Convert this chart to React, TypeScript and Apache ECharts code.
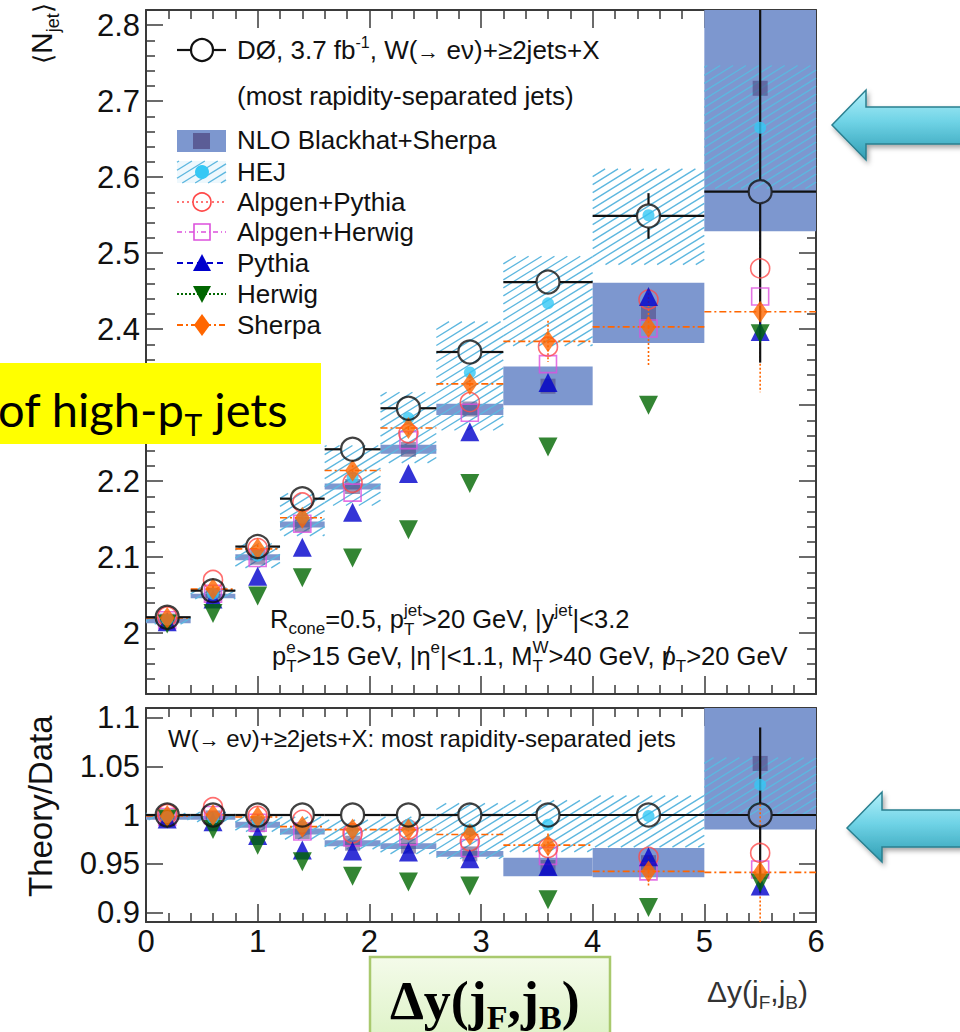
import React, { useEffect, useRef } from 'react';
import * as echarts from 'echarts';

const FONT = 'Liberation Sans, Arial, Helvetica, sans-serif';
const SERIF = 'Liberation Serif, Times New Roman, serif';

// ---------- bins ----------
const binLo = [0, 0.4, 0.8, 1.2, 1.6, 2.1, 2.6, 3.2, 4.0, 5.0];
const binHi = [0.4, 0.8, 1.2, 1.6, 2.1, 2.6, 3.2, 4.0, 5.0, 6.0];
const binX = [0.19, 0.6, 1.0, 1.4, 1.85, 2.35, 2.9, 3.6, 4.5, 5.5];

// ---------- top panel: <N_jet> ----------
const dataN = [2.021, 2.056, 2.114, 2.177, 2.242, 2.296, 2.37, 2.462, 2.549, 2.581];
const dataNErrLo = [0.003, 0.003, 0.004, 0.005, 0.006, 0.007, 0.009, 0.012, 0.03, 0.225];
const dataNErrHi = [0.003, 0.003, 0.004, 0.005, 0.006, 0.007, 0.009, 0.012, 0.03, 0.26];
const nloLo = [2.013, 2.046, 2.096, 2.139, 2.189, 2.236, 2.287, 2.3, 2.382, 2.529];
const nloHi = [2.019, 2.052, 2.104, 2.147, 2.197, 2.248, 2.302, 2.351, 2.461, 2.95];
const nloMid = [2.016, 2.049, 2.1, 2.143, 2.193, 2.242, 2.295, 2.325, 2.421, 2.717];
const hejLo = [2.012, 2.045, 2.086, 2.128, 2.168, 2.224, 2.267, 2.378, 2.485, 2.585];
const hejHi = [2.022, 2.06, 2.118, 2.184, 2.247, 2.317, 2.41, 2.496, 2.611, 2.747];
const hejN = [2.018, 2.052, 2.102, 2.152, 2.205, 2.283, 2.343, 2.434, 2.55, 2.665];
const alpPyN = [2.022, 2.07, 2.112, 2.172, 2.198, 2.263, 2.304, 2.377, 2.439, 2.48];
const alpHwN = [2.017, 2.052, 2.099, 2.144, 2.185, 2.254, 2.29, 2.354, 2.401, 2.443];
const pythiaN = [2.015, 2.045, 2.075, 2.113, 2.159, 2.21, 2.265, 2.33, 2.443, 2.397];
const herwigN = [2.012, 2.026, 2.049, 2.073, 2.099, 2.136, 2.197, 2.245, 2.3, 2.394];
const sherpaN = [2.02, 2.058, 2.111, 2.152, 2.214, 2.27, 2.328, 2.384, 2.403, 2.423];
const sherpaNErr = [0.003, 0.004, 0.005, 0.006, 0.007, 0.008, 0.01, 0.027, 0.05, 0.106];

// ---------- bottom panel: Theory/Data ----------
const dataR = [1, 1, 1, 1, 1, 1, 1, 1, 1, 1];
const dataRErrLo = [0.002, 0.002, 0.002, 0.003, 0.003, 0.003, 0.004, 0.005, 0.012, 0.08];
const dataRErrHi = [0.002, 0.002, 0.002, 0.003, 0.003, 0.003, 0.004, 0.005, 0.012, 0.09];
const nloRLo = [0.995, 0.995, 0.987, 0.98, 0.968, 0.965, 0.957, 0.937, 0.936, 0.985];
const nloRHi = [0.999, 0.999, 0.993, 0.986, 0.974, 0.971, 0.963, 0.956, 0.966, 1.2];
const nloRMid = [0.997, 0.997, 0.99, 0.983, 0.971, 0.968, 0.96, 0.946, 0.951, 1.053];
const hejRLo = [0.995, 0.993, 0.983, 0.975, 0.965, 0.96, 0.955, 0.962, 0.967, 1.0];
const hejRHi = [1.002, 1.003, 1.0, 0.998, 0.995, 0.998, 1.012, 1.015, 1.02, 1.059];
const hejR = [0.998, 0.997, 0.993, 0.988, 0.984, 0.99, 0.985, 0.99, 0.999, 1.031];
const alpPyR = [1.001, 1.008, 0.999, 0.995, 0.981, 0.985, 0.973, 0.966, 0.957, 0.961];
const alpHwR = [0.998, 1.0, 0.992, 0.983, 0.977, 0.978, 0.966, 0.958, 0.942, 0.944];
const pythiaR = [0.996, 0.993, 0.979, 0.964, 0.963, 0.962, 0.955, 0.947, 0.957, 0.927];
const herwigR = [0.996, 0.985, 0.969, 0.952, 0.937, 0.931, 0.927, 0.913, 0.905, 0.93];
const sherpaR = [0.999, 1.0, 0.998, 0.988, 0.985, 0.985, 0.98, 0.969, 0.942, 0.941];
const sherpaRErr = [0.002, 0.002, 0.003, 0.003, 0.004, 0.004, 0.005, 0.012, 0.015, 0.07];

// ---------- axis ticks ----------
const xTickLabels = [0, 1, 2, 3, 4, 5, 6];
const yTopMajor = [2.0, 2.1, 2.2, 2.3, 2.4, 2.5, 2.6, 2.7, 2.8];
const yTopRange = [1.92, 2.82];
const yBotMajor = [0.9, 0.95, 1.0, 1.05, 1.1];
const yBotRange = [0.89, 1.11];
const yTopMinor: number[] = [];
for (let i = 96; i <= 141; i++) if (i % 5 !== 0) yTopMinor.push(+(i * 0.02).toFixed(2));

// ---------- colours ----------
const C_NLO = '#7d97cf';
const C_NLO_MID = 'rgba(78,70,128,0.72)';
const C_HATCH = '#5db7df';
const C_HEJ = '#35c8f5';
const C_APY = '#ff4a4a';
const C_AHW = '#dd50dd';
const C_PYT = '#0000cc';
const C_HER = '#006600';
const C_SHE = '#ff6600';

// ---------- helpers ----------
let mctx: CanvasRenderingContext2D | null = null;
function tw(t: string, size: number, fam: string, weight: string) {
  if (!mctx) mctx = document.createElement('canvas').getContext('2d');
  mctx!.font = `${weight} ${size}px ${fam}`;
  return mctx!.measureText(t).width;
}
type Seg = { t: string; s?: number; dy?: number; dx?: number; stack?: boolean };
function richLine(x: number, base: number, segs: Seg[], size: number, fill: string, fam = FONT, weight = 'normal') {
  const out: any[] = [];
  let cx = x;
  let anchor = x;
  for (const g of segs) {
    const fs = g.s ?? size;
    const w = tw(g.t, fs, fam, weight);
    const sx = (g.stack ? anchor : cx) + (g.dx ?? 0);
    if (!g.stack) anchor = cx;
    out.push({
      type: 'text', x: sx, y: base + (g.dy ?? 0) - 0.35 * fs, z: 100, silent: true,
      style: { text: g.t, fontSize: fs, fontFamily: fam, fontWeight: weight, fill, align: 'left', verticalAlign: 'middle' },
    });
    cx = g.stack ? Math.max(cx, sx + w) : sx + w;
  }
  return out;
}
function hatchSegs(x0: number, y0: number, x1: number, y1: number) {
  const k = 0.62, s = 8;
  const res: number[][] = [];
  const cMin = y0 + k * x0, cMax = y1 + k * x1;
  for (let c = Math.ceil(cMin / s) * s; c <= cMax; c += s) {
    const xa = Math.max(x0, (c - y1) / k);
    const xb = Math.min(x1, (c - y0) / k);
    if (xb - xa > 0.5) res.push([xa, c - k * xa, xb, c - k * xb]);
  }
  return res;
}
const gl = (x1: number, y1: number, x2: number, y2: number, stroke: string, lw: number, dash?: number[]) => ({
  type: 'line', z: 100, silent: true, shape: { x1, y1, x2, y2 }, style: { stroke, lineWidth: lw, lineDash: dash },
});

function bandRender(color: string) {
  return (params: any, api: any) => {
    const cs = params.coordSys;
    const a = api.coord([api.value(0), api.value(3)]);
    const b = api.coord([api.value(1), api.value(2)]);
    const top = Math.max(a[1], cs.y), bot = Math.min(b[1], cs.y + cs.height);
    return { type: 'rect', shape: { x: a[0], y: top, width: b[0] - a[0], height: Math.max(bot - top, 1) }, style: { fill: color } };
  };
}
function hatchRender(color: string) {
  return (params: any, api: any) => {
    const cs = params.coordSys;
    const a = api.coord([api.value(0), api.value(3)]);
    const b = api.coord([api.value(1), api.value(2)]);
    const top = Math.max(a[1], cs.y), bot = Math.min(b[1], cs.y + cs.height);
    const children = hatchSegs(a[0], top, b[0], bot).map((s) => ({
      type: 'line', shape: { x1: s[0], y1: s[1], x2: s[2], y2: s[3] }, style: { stroke: color, lineWidth: 1.4 },
    }));
    return { type: 'group', children };
  };
}
function errRender(color: string, width: number, dash: any, gap: number) {
  return (params: any, api: any) => {
    const cs = params.coordSys;
    const x = api.value(0), y = api.value(1);
    const c = api.coord([x, y]);
    const pl = api.coord([api.value(2), y]);
    const ph = api.coord([api.value(3), y]);
    const pyl = api.coord([x, api.value(4)]);
    const pyh = api.coord([x, api.value(5)]);
    const st = { stroke: color, lineWidth: width, lineDash: dash };
    const ch: any[] = [];
    const L = (x1: number, y1: number, x2: number, y2: number) => ch.push({ type: 'line', shape: { x1, y1, x2, y2 }, style: st });
    if (ph[0] - pl[0] > 1) {
      if (gap > 0) { L(pl[0], c[1], c[0] - gap, c[1]); L(c[0] + gap, c[1], ph[0], c[1]); }
      else L(pl[0], c[1], ph[0], c[1]);
    }
    const yTop = Math.max(cs.y, pyh[1]);
    const yBot = Math.min(cs.y + cs.height, pyl[1]);
    if (c[1] - gap > yTop + 0.5) L(c[0], yTop, c[0], c[1] - gap);
    if (yBot > c[1] + gap + 0.5) L(c[0], c[1] + gap, c[0], yBot);
    return { type: 'group', children: ch };
  };
}

const idx = binX.map((_, i) => i);
function panelSeries(xi: number, yi: number, d: any) {
  const base = { xAxisIndex: xi, yAxisIndex: yi, silent: true, animation: false };
  const sc = (data: number[], z: number, extra: any) => ({
    ...base, type: 'scatter', z, emphasis: { disabled: true }, data: idx.map((i) => [binX[i], data[i]]), ...extra,
  });
  return [
    { ...base, type: 'custom', z: 1, renderItem: bandRender(C_NLO), data: idx.map((i) => [binLo[i], binHi[i], d.nloLo[i], d.nloHi[i]]) },
    { ...base, type: 'custom', z: 2, renderItem: hatchRender(C_HATCH), data: idx.map((i) => [binLo[i], binHi[i], d.hejLo[i], d.hejHi[i]]) },
    sc(d.nloMid, 3, { symbol: 'rect', symbolSize: 15, itemStyle: { color: C_NLO_MID } }),
    { ...base, type: 'custom', z: 4, renderItem: errRender(C_SHE, 1.6, [7, 3, 2, 3], 0), data: idx.map((i) => [binX[i], d.she[i], binLo[i], binHi[i], d.she[i], d.she[i]]) },
    { ...base, type: 'custom', z: 4, renderItem: errRender(C_SHE, 1.6, [2, 2], 0), data: idx.map((i) => [binX[i], d.she[i], binX[i], binX[i], d.she[i] - d.sheErr[i], d.she[i] + d.sheErr[i]]) },
    { ...base, type: 'custom', z: 5, renderItem: errRender('#111', 2.2, null, 12), data: idx.map((i) => [binX[i], d.data[i], binLo[i], binHi[i], d.data[i] - d.dErrLo[i], d.data[i] + d.dErrHi[i]]) },
    sc(d.ahw, 6, { symbol: 'rect', symbolSize: 17, itemStyle: { color: 'rgba(0,0,0,0)', borderColor: C_AHW, borderWidth: 1.6 } }),
    sc(d.apy, 7, { symbol: 'circle', symbolSize: 19, itemStyle: { color: 'rgba(0,0,0,0)', borderColor: C_APY, borderWidth: 1.6 } }),
    sc(d.pyt, 8, { symbol: 'triangle', symbolSize: 19, itemStyle: { color: C_PYT } }),
    sc(d.her, 8, { symbol: 'triangle', symbolRotate: 180, symbolSize: 19, itemStyle: { color: C_HER } }),
    sc(d.hej, 9, { symbol: 'circle', symbolSize: 12, itemStyle: { color: C_HEJ } }),
    sc(d.she, 10, { symbol: 'diamond', symbolSize: [15, 22], itemStyle: { color: C_SHE } }),
    sc(d.data, 11, { symbol: 'circle', symbolSize: 23, itemStyle: { color: 'rgba(0,0,0,0)', borderColor: '#111', borderWidth: 2.2 } }),
  ];
}

const axLine = { color: '#3a3a3a', width: 2 };
const tickSt = { color: '#3a3a3a', width: 1.5 };
const labelSt = { fontSize: 31, fontFamily: FONT, color: '#111' };
function xAx(grid: number, pos: string, labels: boolean) {
  return {
    type: 'value', gridIndex: grid, position: pos, min: 0, max: 6, interval: 1,
    axisLine: { show: true, onZero: false, lineStyle: axLine },
    axisTick: { show: true, inside: true, length: 18, lineStyle: tickSt },
    minorTick: { show: true, splitNumber: 5, length: 9, lineStyle: tickSt },
    axisLabel: labels ? { show: true, margin: 4, ...labelSt, customValues: xTickLabels } : { show: false },
    splitLine: { show: false }, minorSplitLine: { show: false },
  };
}
function yAx(grid: number, pos: string, range: number[], values: number[], len: number, labels: boolean, line: boolean) {
  return {
    type: 'value', gridIndex: grid, position: pos, min: range[0], max: range[1],
    axisLine: { show: line, onZero: false, lineStyle: axLine },
    axisTick: { show: true, inside: true, length: len, customValues: values, lineStyle: tickSt },
    axisLabel: labels ? { show: true, margin: 6, ...labelSt, customValues: values } : { show: false },
    splitLine: { show: false },
  };
}

function legend() {
  const els: any[] = [];
  const X0 = 177, X1 = 226, XC = 202, TX = 237, FS = 26;
  const T = (y: number, segs: Seg[]) => els.push(...richLine(TX, y + 9, segs, FS, '#111'));
  // data
  els.push(gl(X0, 50, XC - 11, 50, '#111', 2.2), gl(XC + 11, 50, X1, 50, '#111', 2.2));
  els.push({ type: 'circle', z: 100, silent: true, shape: { cx: XC, cy: 50, r: 11 }, style: { fill: 'none', stroke: '#111', lineWidth: 2.2 } });
  T(50, [{ t: 'DØ, 3.7 fb' }, { t: '-1', s: 16, dy: -11 }, { t: ', W(' }, { t: '→', s: 22 }, { t: ' eν)+≥2jets+X' }]);
  T(96, [{ t: '(most rapidity-separated jets)' }]);
  // NLO
  els.push({ type: 'rect', z: 100, silent: true, shape: { x: X0, y: 130, width: X1 - X0, height: 22 }, style: { fill: C_NLO } });
  els.push({ type: 'rect', z: 100, silent: true, shape: { x: 193, y: 133, width: 17, height: 16 }, style: { fill: C_NLO_MID } });
  T(140, [{ t: 'NLO Blackhat+Sherpa' }]);
  // HEJ
  els.push({ type: 'rect', z: 100, silent: true, shape: { x: X0, y: 161, width: X1 - X0, height: 22 }, style: { fill: 'rgba(140,210,240,0.15)' } });
  hatchSegs(X0, 161, X1, 183).forEach((s) => els.push(gl(s[0], s[1], s[2], s[3], C_HATCH, 1.4)));
  els.push({ type: 'circle', z: 100, silent: true, shape: { cx: XC, cy: 172, r: 7 }, style: { fill: C_HEJ } });
  T(172, [{ t: 'HEJ' }]);
  // Alpgen+Pythia
  els.push(gl(X0, 202, X1, 202, C_APY, 1.6, [2, 3]));
  els.push({ type: 'circle', z: 100, silent: true, shape: { cx: XC, cy: 202, r: 9 }, style: { fill: '#fff', stroke: C_APY, lineWidth: 1.6 } });
  els.push(gl(XC - 6, 202, XC + 6, 202, C_APY, 1.6, [2, 3]));
  T(202, [{ t: 'Alpgen+Pythia' }]);
  // Alpgen+Herwig
  els.push(gl(X0, 232, X1, 232, C_AHW, 1.6, [5, 3, 1, 3]));
  els.push({ type: 'rect', z: 100, silent: true, shape: { x: XC - 8, y: 224, width: 16, height: 16 }, style: { fill: 'none', stroke: C_AHW, lineWidth: 1.6 } });
  T(232, [{ t: 'Alpgen+Herwig' }]);
  // Pythia
  els.push(gl(X0, 263, X1, 263, C_PYT, 2, [6, 4]));
  els.push({ type: 'polygon', z: 100, silent: true, shape: { points: [[XC - 9, 271], [XC + 9, 271], [XC, 254]] }, style: { fill: C_PYT } });
  T(263, [{ t: 'Pythia' }]);
  // Herwig
  els.push(gl(X0, 294, X1, 294, C_HER, 2, [2, 2]));
  els.push({ type: 'polygon', z: 100, silent: true, shape: { points: [[XC - 9, 286], [XC + 9, 286], [XC, 303]] }, style: { fill: C_HER } });
  T(294, [{ t: 'Herwig' }]);
  // Sherpa
  els.push(gl(X0, 325, X1, 325, C_SHE, 2, [6, 3, 2, 3]));
  els.push({ type: 'polygon', z: 100, silent: true, shape: { points: [[XC, 314], [XC + 8, 325], [XC, 336], [XC - 8, 325]] }, style: { fill: C_SHE } });
  T(325, [{ t: 'Sherpa' }]);
  return els;
}

function annotations() {
  const els: any[] = [];
  const S = 17;
  els.push(...richLine(270, 628, [
    { t: 'R' }, { t: 'cone', s: S, dy: 6 }, { t: '=0.5, p' }, { t: 'T', s: S, dy: 7 }, { t: 'jet', s: S, dy: -12, stack: true },
    { t: '>20 GeV, |y' }, { t: 'jet', s: S, dy: -12 }, { t: '|<3.2' },
  ], 25.5, '#111'));
  els.push(...richLine(272, 665, [
    { t: 'p' }, { t: 'T', s: S, dy: 7 }, { t: 'e', s: S, dy: -12, stack: true }, { t: '>15 GeV, |η' }, { t: 'e', s: S, dy: -12 },
    { t: '|<1.1, M' }, { t: 'T', s: S, dy: 7 }, { t: 'W', s: S, dy: -12, stack: true }, { t: '>40 GeV, ' },
    { t: 'p' }, { t: '/', stack: true, dx: 2 }, { t: 'T', s: S, dy: 7 }, { t: '>20 GeV' },
  ], 25.5, '#111'));
  els.push(...richLine(168, 747, [{ t: 'W(' }, { t: '→', s: 21 }, { t: ' eν)+≥2jets+X: most rapidity-separated jets' }], 24, '#111'));
  els.push(...richLine(707, 1002, [{ t: 'Δy(j' }, { t: 'F', s: 19, dy: 7 }, { t: ',j' }, { t: 'B', s: 19, dy: 7 }, { t: ')' }], 30, '#333'));
  // rotated y titles
  els.push({ type: 'group', x: 52, y: 64, rotation: Math.PI / 2, z: 100, silent: true,
    children: richLine(0, 0, [{ t: '⟨', s: 26 }, { t: 'N' }, { t: 'jet', s: 18, dy: 7 }, { t: '⟩', s: 26 }], 30, '#111') });
  els.push({ type: 'group', x: 52, y: 897, rotation: Math.PI / 2, z: 100, silent: true,
    children: richLine(0, 0, [{ t: 'Theory/Data' }], 33, '#111') });
  return els;
}

function overlays() {
  const els: any[] = [];
  // yellow label
  els.push({ type: 'rect', z: 200, silent: true, shape: { x: 0, y: 363, width: 321, height: 81 }, style: { fill: '#ffff00' } });
  els.push(...richLine(-2, 425, [{ t: 'of high-p' }, { t: 'T', s: 30, dy: 9 }, { t: ' jets' }], 47, '#000', 'Lato, Open Sans, sans-serif').map((e) => ({ ...e, z: 201 })));
  // green label
  els.push({ type: 'rect', z: 200, silent: true, shape: { x: 370, y: 957, width: 240, height: 90 },
    style: { fill: new echarts.graphic.LinearGradient(0, 0, 0, 1, [{ offset: 0, color: '#f4fbea' }, { offset: 1, color: '#dcf2c4' }]), stroke: '#a9c96e', lineWidth: 2.5 } });
  els.push(...richLine(390, 1020, [{ t: 'Δy(j' }, { t: 'F', s: 34, dy: 9 }, { t: ',j' }, { t: 'B', s: 34, dy: 9 }, { t: ')' }], 54, '#000', SERIF, 'bold').map((e) => ({ ...e, z: 201 })));
  // arrows
  const arrow = (tipX: number, tipY: number, backX: number, hTop: number, hBot: number, sTop: number, sBot: number) => ({
    type: 'polygon', z: 200, silent: true,
    shape: { points: [[tipX, tipY], [backX, hTop], [backX, sTop], [962, sTop], [962, sBot], [backX, sBot], [backX, hBot]] },
    style: {
      fill: new echarts.graphic.LinearGradient(0, 0, 0, 1, [
        { offset: 0, color: '#b2f0fa' }, { offset: 0.45, color: '#6fd3e6' }, { offset: 1, color: '#2f9db3' }]),
      stroke: '#2a7f8f', lineWidth: 1.5, shadowBlur: 5, shadowColor: 'rgba(0,0,0,0.35)', shadowOffsetX: 2, shadowOffsetY: 3,
    },
  });
  els.push(arrow(832, 125, 866, 90, 160, 107, 144));
  els.push(arrow(847, 828, 882, 792, 862, 810, 847));
  return els;
}

function buildOption() {
  const top = { data: dataN, dErrLo: dataNErrLo, dErrHi: dataNErrHi, nloLo, nloHi, nloMid, hejLo, hejHi, hej: hejN,
    apy: alpPyN, ahw: alpHwN, pyt: pythiaN, her: herwigN, she: sherpaN, sheErr: sherpaNErr };
  const bot = { data: dataR, dErrLo: dataRErrLo, dErrHi: dataRErrHi, nloLo: nloRLo, nloHi: nloRHi, nloMid: nloRMid,
    hejLo: hejRLo, hejHi: hejRHi, hej: hejR, apy: alpPyR, ahw: alpHwR, pyt: pythiaR, her: herwigR, she: sherpaR, sheErr: sherpaRErr };
  return {
    animation: false,
    backgroundColor: '#ffffff',
    grid: [
      { left: 146, top: 10, width: 670, height: 684 },
      { left: 146, top: 708, width: 670, height: 214 },
    ],
    xAxis: [xAx(0, 'bottom', false), xAx(0, 'top', false), xAx(1, 'bottom', true), xAx(1, 'top', false)],
    yAxis: [
      yAx(0, 'left', yTopRange, yTopMajor, 17, true, true),
      yAx(0, 'left', yTopRange, yTopMinor, 9, false, false),
      yAx(0, 'right', yTopRange, yTopMajor, 17, false, true),
      yAx(0, 'right', yTopRange, yTopMinor, 9, false, false),
      yAx(1, 'left', yBotRange, yBotMajor, 17, true, true),
      yAx(1, 'right', yBotRange, yBotMajor, 17, false, true),
    ],
    series: [...panelSeries(0, 0, top), ...panelSeries(2, 4, bot)],
    graphic: { elements: [...legend(), ...annotations(), ...overlays()] },
  };
}

export default function App() {
  const ref = useRef<HTMLDivElement>(null);
  useEffect(() => {
    const chart = echarts.init(ref.current!, null, { renderer: 'svg', width: 960, height: 1032 });
    chart.setOption(buildOption() as any);
    return () => chart.dispose();
  }, []);
  return <div ref={ref} style={{ position: 'fixed', left: 0, top: 0, width: 960, height: 1032, background: '#fff' }} />;
}
